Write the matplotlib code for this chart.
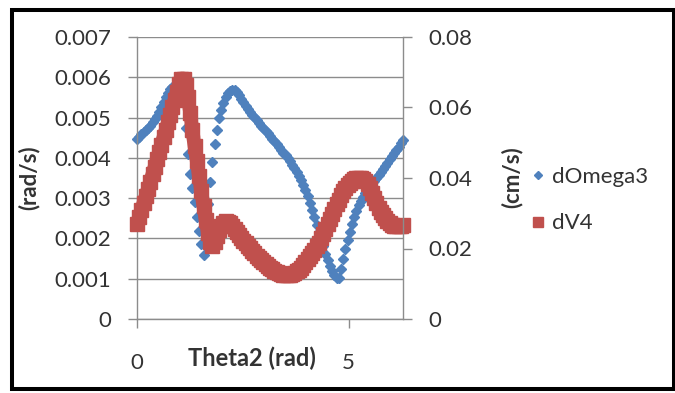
import numpy as np
import matplotlib
matplotlib.use("Agg")
import matplotlib.pyplot as plt
from matplotlib.patches import Rectangle
from matplotlib.lines import Line2D

plt.rcParams["font.family"] = ["Lato", "DejaVu Sans"]

# Theta2 sampled every 3 degrees over one revolution
theta_deg = np.arange(0, 361, 3)

# dOmega3 (rad/s), in units of 0.001
domega3_milli = [
    4.48, 4.53, 4.58, 4.63, 4.68, 4.74, 4.80, 4.88, 4.96, 5.05,
    5.15, 5.26, 5.38, 5.50, 5.61, 5.70, 5.77, 5.82, 5.85, 5.83,
    5.72, 5.40, 4.75, 4.10, 3.60, 3.25, 2.90, 2.52, 2.18, 1.85,
    1.58, 2.20, 2.85, 3.40, 3.90, 4.35, 4.70, 4.98, 5.20, 5.36,
    5.50, 5.60, 5.66, 5.69, 5.68, 5.63, 5.55, 5.47, 5.38, 5.29,
    5.21, 5.14, 5.07, 5.01, 4.94, 4.87, 4.80, 4.74, 4.67, 4.61,
    4.54, 4.48, 4.41, 4.34, 4.27, 4.20, 4.13, 4.06, 3.99, 3.91,
    3.83, 3.75, 3.66, 3.56, 3.45, 3.33, 3.20, 3.05, 2.88, 2.70,
    2.52, 2.34, 2.16, 1.98, 1.80, 1.62, 1.46, 1.32, 1.20, 1.10,
    1.03, 1.01, 1.25, 1.50, 1.74, 1.96, 2.16, 2.35, 2.52, 2.68,
    2.82, 2.94, 3.04, 3.13, 3.21, 3.29, 3.36, 3.43, 3.50, 3.57,
    3.64, 3.72, 3.80, 3.88, 3.96, 4.04, 4.12, 4.20, 4.28, 4.36,
    4.44,
]

# dV4 (cm/s), in units of 0.01
dv4_centi = [
    2.70, 2.90, 3.10, 3.30, 3.50, 3.70, 3.90, 4.11, 4.32, 4.53,
    4.74, 4.95, 5.16, 5.37, 5.58, 5.79, 6.00, 6.22, 6.45, 6.68,
    6.82, 6.82, 6.65, 6.30, 5.85, 5.35, 4.90, 4.48, 4.05, 3.62,
    3.20, 2.80, 2.45, 2.18, 2.08, 2.18, 2.35, 2.52, 2.65, 2.73,
    2.77, 2.76, 2.71, 2.63, 2.55, 2.46, 2.38, 2.30, 2.22, 2.15,
    2.08, 2.01, 1.94, 1.87, 1.80, 1.73, 1.67, 1.61, 1.55, 1.50,
    1.45, 1.41, 1.37, 1.33, 1.30, 1.28, 1.26, 1.25, 1.25, 1.26,
    1.28, 1.31, 1.35, 1.40, 1.46, 1.53, 1.61, 1.69, 1.78, 1.87,
    1.96, 2.06, 2.17, 2.29, 2.42, 2.55, 2.69, 2.83, 2.97, 3.11,
    3.25, 3.38, 3.51, 3.62, 3.72, 3.80, 3.87, 3.92, 3.96, 3.99,
    4.00, 4.00, 3.97, 3.91, 3.82, 3.71, 3.58, 3.44, 3.30, 3.16,
    3.03, 2.95, 2.87, 2.79, 2.72, 2.67, 2.64, 2.63, 2.63, 2.64,
    2.66,
]

left_ticks = [0, 0.001, 0.002, 0.003, 0.004, 0.005, 0.006, 0.007]
left_labels = ["0", "0.001", "0.002", "0.003", "0.004", "0.005", "0.006", "0.007"]
right_ticks = [0, 0.02, 0.04, 0.06, 0.08]
right_labels = ["0", "0.02", "0.04", "0.06", "0.08"]
x_ticks = [0, 5]

BLUE = "#4F81BD"
RED = "#C0504D"
GRID = "#8c8c8c"
TXT = "#333333"
FS = 16

theta = np.radians(theta_deg)
domega3 = np.array(domega3_milli) * 1e-3
dv4 = np.array(dv4_centi) * 1e-2

fig = plt.figure(figsize=(6.75, 3.93), dpi=100)
ax = fig.add_axes([137 / 675, 1 - 319 / 393, (403 - 137) / 675, (319 - 37) / 393])
ax2 = ax.twinx()

ax.plot(theta, domega3, linestyle="none", marker="D", ms=5.5,
        color=BLUE, mec=BLUE, label="dOmega3", clip_on=False)
# dense square markers merge into a thick band in the original
ax2.plot(theta, dv4, linestyle="-", lw=10, solid_capstyle="butt",
         solid_joinstyle="round", marker="s", ms=9.5,
         color=RED, mec=RED, label="dV4", clip_on=False)

ax.set_xlim(0, 2 * np.pi)
ax.set_ylim(0, 0.007)
ax2.set_ylim(0, 0.08)

ax.set_yticks(left_ticks)
ax.set_yticklabels(left_labels)
ax2.set_yticks(right_ticks)
ax2.set_yticklabels(right_labels)
ax.set_xticks(x_ticks)
ax.set_xticklabels([str(t) for t in x_ticks])

ax.grid(axis="y", color=GRID, linewidth=1.0)
ax.set_axisbelow(True)

for a in (ax, ax2):
    for s in a.spines.values():
        s.set_color(GRID)
        s.set_linewidth(1.0)
    a.spines["top"].set_visible(False)
ax.spines["right"].set_visible(False)
ax2.spines["left"].set_visible(False)
ax2.spines["bottom"].set_visible(False)

ax.tick_params(axis="y", direction="out", length=6.5, width=1, color=GRID,
               pad=12, labelsize=FS, labelcolor=TXT)
ax2.tick_params(axis="y", direction="out", length=6.5, width=1, color=GRID,
                pad=12, labelsize=FS, labelcolor=TXT)
ax.tick_params(axis="x", direction="out", length=6.5, width=1, color=GRID,
               pad=18, labelsize=FS, labelcolor=TXT)

fig.text(252 / 675, 1 - 358 / 393, "Theta2 (rad)", ha="center", va="center",
         fontsize=17, fontweight="bold", color=TXT)
fig.text(29 / 675, 1 - 178 / 393, "(rad/s)", ha="center", va="center",
         rotation=90, fontsize=FS, fontweight="bold", color=TXT)
fig.text(512 / 675, 1 - 177 / 393, "(cm/s)", ha="center", va="center",
         rotation=90, fontsize=FS, fontweight="bold", color=TXT)

handles = [
    Line2D([], [], linestyle="none", marker="D", ms=4.5, color=BLUE),
    Line2D([], [], linestyle="none", marker="s", ms=7.0, color=RED),
]
fig.legend(handles, ["dOmega3", "dV4"], loc="center left",
           bbox_to_anchor=(509 / 675, 1 - 200 / 393), frameon=False,
           fontsize=FS, handlelength=0.8, handletextpad=0.23,
           labelspacing=1.2, labelcolor=TXT)

fig.patches.append(Rectangle((12 / 675, 1 - 389 / 393),
                             (673.5 - 12) / 675, (389 - 9.5) / 393,
                             transform=fig.transFigure, fill=False,
                             edgecolor="black", linewidth=2.9))

fig.savefig("out.png", dpi=100)
